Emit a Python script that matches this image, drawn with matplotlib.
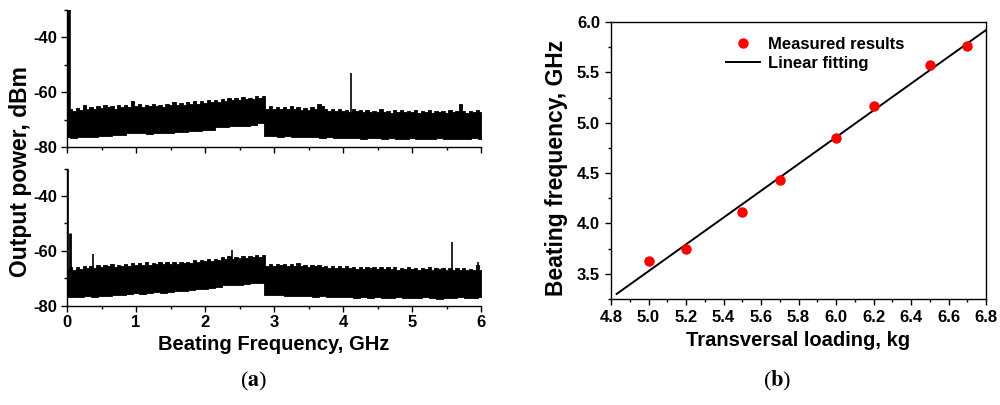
import numpy as np
import matplotlib
matplotlib.use("Agg")
import matplotlib.pyplot as plt
from matplotlib.ticker import MultipleLocator, FormatStrFormatter

plt.rcParams['font.family'] = ['Liberation Sans', 'DejaVu Sans']
plt.rcParams['font.weight'] = 'bold'
plt.rcParams['mathtext.fontset'] = 'stix'
plt.rcParams['axes.unicode_minus'] = False

# ---------------- data ----------------
grid_coarse = np.round(np.arange(0, 6.001, 0.1), 2)   # GHz, lower edge sampling
grid_fine = np.round(np.arange(0, 6.001, 0.05), 2)    # GHz, upper edge sampling

top_upper = [-67.5, -66.0, -67.0, -65.8, -66.4, -64.8, -66.2, -65.4, -66.0, -65.0,
             -65.9, -64.9, -65.6, -65.1, -66.0, -64.8, -65.5, -64.6, -65.3, -63.4,
             -65.0, -64.4, -65.4, -64.6, -65.2, -64.3, -65.0, -64.7, -65.3, -64.2,
             -64.9, -63.8, -64.6, -64.0, -64.8, -63.6, -64.3, -63.4, -64.2, -63.3,
             -63.9, -62.8, -63.6, -62.9, -63.5, -62.4, -63.2, -62.3, -63.0, -62.0,
             -62.8, -61.9, -62.6, -62.1, -62.7, -61.6, -62.3, -61.5, -66.0, -65.2,
             -66.1, -65.6, -66.3, -65.4, -66.0, -65.1, -66.2, -65.5, -66.4, -65.9,
             -66.5, -65.6, -66.3, -64.3, -65.0, -66.1, -66.8, -66.0, -66.9, -66.2,
             -67.0, -66.4, -67.2, -66.3, -67.0, -66.5, -67.3, -66.6, -67.4, -66.8,
             -67.2, -66.3, -67.4, -66.9, -67.5, -66.7, -67.3, -66.6, -67.4, -66.8,
             -67.2, -66.5, -67.5, -66.9, -67.3, -66.6, -67.6, -66.8, -67.4, -66.9,
             -67.5, -66.7, -67.3, -66.9, -64.2, -67.0, -67.5, -66.8, -67.4, -66.7,
             -67.2]
top_lower = [-76.5, -76.6, -76.4, -76.3, -76.2, -76.0, -76.1, -75.8, -75.6, -75.0,
             -75.0, -74.9, -75.1, -74.8, -74.9, -74.8, -74.5, -74.4, -74.1, -74.0,
             -73.9, -73.8, -72.8, -72.6, -72.4, -72.2, -72.2, -72.0, -71.4, -76.0,
             -76.0, -76.2, -76.1, -76.4, -76.3, -76.5, -76.4, -76.6, -76.5, -76.8,
             -76.6, -76.9, -76.7, -77.0, -76.8, -76.9, -77.1, -76.8, -77.0, -77.2,
             -76.9, -77.1, -77.0, -77.2, -76.9, -77.1, -77.0, -77.2, -77.0, -76.9,
             -77.0]
top_spike_f = [0.03, 4.12]
top_spike_v = [-30.0, -53.2]

bot_upper = [-67.0, -66.0, -66.8, -65.9, -66.5, -65.6, -66.2, -65.4, -66.1, -65.2,
             -65.8, -65.0, -65.6, -64.9, -65.9, -65.0, -65.5, -64.7, -65.4, -64.6,
             -65.2, -64.4, -65.0, -64.2, -65.1, -64.3, -64.9, -64.0, -64.7, -64.2,
             -64.9, -64.1, -64.8, -64.0, -64.6, -63.9, -64.5, -63.4, -64.1, -63.3,
             -63.8, -63.0, -63.7, -62.8, -63.4, -62.3, -63.1, -62.0, -62.8, -62.1,
             -62.7, -61.9, -62.5, -61.8, -62.4, -61.5, -62.2, -61.4, -65.6, -64.8,
             -65.5, -64.7, -65.3, -64.9, -65.6, -64.8, -65.4, -64.6, -65.5, -65.0,
             -65.8, -65.1, -65.7, -65.2, -66.0, -65.4, -66.1, -65.5, -66.2, -65.6,
             -66.3, -65.7, -66.4, -65.9, -66.5, -65.8, -66.6, -65.9, -66.4, -65.8,
             -66.6, -66.0, -66.7, -66.0, -66.5, -65.9, -66.8, -66.1, -66.6, -66.0,
             -66.7, -66.1, -66.8, -66.2, -66.6, -66.0, -66.9, -66.3, -66.7, -66.1,
             -66.8, -66.2, -66.9, -66.4, -66.8, -66.2, -67.0, -66.5, -66.8, -65.0,
             -66.9]
bot_lower = [-76.7, -76.7, -76.8, -76.6, -76.7, -76.4, -76.5, -76.2, -76.0, -75.8,
             -75.5, -75.6, -75.3, -75.1, -75.2, -75.0, -74.8, -74.5, -74.3, -74.0,
             -73.8, -73.5, -73.0, -72.6, -72.4, -72.4, -72.1, -71.9, -71.6, -76.1,
             -76.2, -76.0, -76.4, -76.3, -76.6, -76.5, -76.7, -76.6, -76.8, -76.9,
             -77.0, -76.8, -77.1, -76.9, -77.2, -77.0, -77.1, -77.3, -77.0, -77.2,
             -77.1, -77.3, -77.0, -77.2, -77.4, -77.1, -77.3, -77.0, -77.2, -77.1,
             -77.0]
bot_spike_f = [0.02, 0.04, 0.38, 2.39, 5.58, 5.96]
bot_spike_v = [-30.0, -53.5, -61.0, -59.8, -56.9, -64.0]
spike_base = -70.0
body_mid = -69.0

load_kg = [5.0, 5.2, 5.5, 5.7, 6.0, 6.2, 6.5, 6.7]
beat_ghz = [3.63, 3.75, 4.11, 4.43, 4.85, 5.17, 5.57, 5.76]
fit_x = [4.83, 6.8]
fit_y = [3.30, 5.92]

# ---------------- figure ----------------
fig = plt.figure(figsize=(10, 4.05), dpi=100)

W, H = 1000.0, 405.0
def ax_px(x0, y0, x1, y1):
    return fig.add_axes([x0 / W, 1 - y1 / H, (x1 - x0) / W, (y1 - y0) / H])

ax1 = ax_px(67, 9.5, 481, 147)
ax2 = ax_px(67, 168.6, 481, 305.7)
ax3 = ax_px(611, 22, 986, 299)

lab_fs = 14.5
ylab_fs = 16.5
tick_fs = 12

for ax, up, lo, sf, sv, lws in [(ax1, top_upper, top_lower, top_spike_f, top_spike_v, [2.6, 1.2]),
                                (ax2, bot_upper, bot_lower, bot_spike_f, bot_spike_v,
                                 [1.2, 2.0, 1.2, 1.2, 1.2, 1.2])]:
    ax.fill_between(grid_coarse, lo, body_mid, step='mid', color='black', lw=0.6,
                    edgecolor='black')
    ax.fill_between(grid_fine, body_mid, up, step='mid', color='black', lw=0.6,
                    edgecolor='black')
    ax.vlines(sf, spike_base, sv, color='black', lw=lws)
    ax.set_xlim(0, 6)
    ax.set_ylim(-80, -30)
    ax.spines['top'].set_visible(False)
    ax.spines['right'].set_visible(False)
    ax.spines['left'].set_linewidth(1.0)
    ax.spines['bottom'].set_linewidth(1.0)
    ax.set_yticks([-80, -60, -40])
    ax.yaxis.set_minor_locator(MultipleLocator(10))
    ax.xaxis.set_major_locator(MultipleLocator(1))
    ax.xaxis.set_minor_locator(MultipleLocator(0.5))
    ax.tick_params(which='major', direction='out', length=4, width=1, labelsize=tick_fs, pad=3)
    ax.tick_params(which='minor', direction='out', length=2.5, width=1)

ax1.tick_params(axis='x', labelbottom=False)
ax2.set_xlabel('Beating Frequency, GHz', fontsize=lab_fs, fontweight='bold', labelpad=3)
fig.text(21 / W, 1 - 172 / H, 'Output power, dBm', rotation=90, fontsize=ylab_fs,
         fontweight='bold', ha='center', va='center')

# right panel
ax3.plot(fit_x, fit_y, color='black', lw=1.4, label='Linear fitting')
ax3.plot(load_kg, beat_ghz, 'o', color='red', ms=6.5, label='Measured results')
ax3.set_xlim(4.8, 6.8)
ax3.set_ylim(3.25, 6.0)
ax3.xaxis.set_major_locator(MultipleLocator(0.2))
ax3.xaxis.set_minor_locator(MultipleLocator(0.1))
ax3.yaxis.set_major_locator(MultipleLocator(0.5))
ax3.yaxis.set_minor_locator(MultipleLocator(0.25))
ax3.xaxis.set_major_formatter(FormatStrFormatter('%.1f'))
ax3.yaxis.set_major_formatter(FormatStrFormatter('%.1f'))
ax3.tick_params(which='major', direction='out', length=4, width=1, labelsize=tick_fs, pad=4)
ax3.tick_params(which='minor', direction='out', length=2.5, width=1)
for sp in ax3.spines.values():
    sp.set_linewidth(1.0)
ax3.set_xlabel('Transversal loading, kg', fontsize=lab_fs, fontweight='bold', labelpad=4)
fig.text(557 / W, 1 - 168 / H, 'Beating frequency, GHz', rotation=90, fontsize=ylab_fs,
         fontweight='bold', ha='center', va='center')
h, l = ax3.get_legend_handles_labels()
ax3.legend(h[::-1], l[::-1], loc='upper left', bbox_to_anchor=(0.29, 0.97), frameon=False,
           prop={'weight': 'bold', 'size': 12}, handlelength=2.0, handletextpad=0.5,
           labelspacing=0.25, borderaxespad=0)

fig.text(254 / W, 1 - 381 / H, r'($\mathbf{a}$)', fontsize=16, family='Liberation Serif',
         fontweight='normal', ha='center', va='center')
fig.text(777 / W, 1 - 381 / H, r'($\mathbf{b}$)', fontsize=16, family='Liberation Serif',
         fontweight='normal', ha='center', va='center')

fig.savefig('out.png', dpi=100)
